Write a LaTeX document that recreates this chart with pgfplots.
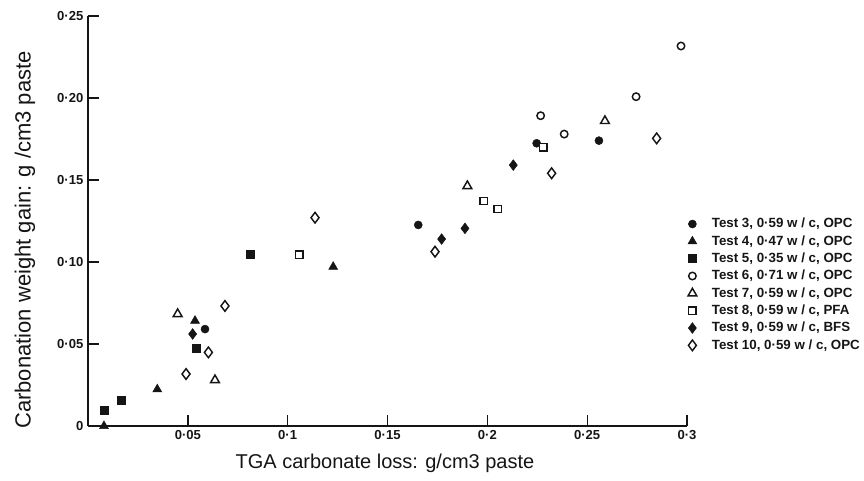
\documentclass[border=0pt]{standalone}
\usepackage{fontspec}
\setmainfont{Liberation Sans}
\usepackage{pgfplots}
\pgfplotsset{compat=1.18}
\definecolor{ink}{HTML}{151515}
\pgfplotsset{only mark legend/.style={legend image code/.code={\draw[##1] plot coordinates {(0pt,0pt)};}}}
\begin{document}
\begin{tikzpicture}
\path[use as bounding box] (0,0) rectangle (648pt,360pt);
\begin{axis}[
  at={(66pt,40.5pt)}, anchor=south west,
  scale only axis, width=449.25pt, height=307.5pt,
  xmin=0, xmax=0.3, ymin=0, ymax=0.25,
  axis x line=bottom, axis y line=left,
  axis line style={-, line width=1.1pt, ink},
  tick align=inside, major tick length=8pt,
  every tick/.style={line width=1pt, ink},
  xtick={0.05,0.1,0.15,0.2,0.25,0.3},
  xticklabels={0·05,0·1,0·15,0·2,0·25,0·3},
  ytick={0,0.05,0.1,0.15,0.2,0.25},
  yticklabels={0,0·05,0·10,0·15,0·20,0·25},
  ticklabel style={font=\bfseries\fontsize{9.8}{11}\selectfont, text=ink},
  every axis x label/.style={at={(axis description cs:0.4958,-0.0902)}, anchor=center},
  every axis y label/.style={at={(axis description cs:-0.1052,0.4537)}, anchor=center, rotate=90},
  xlabel style={font=\fontsize{15}{18}\selectfont, text=ink},
  ylabel style={font=\fontsize{16.5}{19}\selectfont, text=ink},
  xlabel={TGA carbonate loss: g/cm3 paste},
  ylabel={Carbonation weight gain: g /cm3 paste},
  legend image code/.code={\draw[#1] plot coordinates {(0pt,0pt)};},
  legend cell align=left,
  legend style={at={(axis description cs:1.0017,0.5138)}, anchor=north west,
    draw=none, fill=none, inner sep=0pt, outer sep=0pt,
    /tikz/row sep=0pt, /tikz/column sep=11.3pt,
    font=\bfseries\fontsize{10}{11}\selectfont, text=ink,
    nodes={inner sep=0pt, minimum height=13pt}},
  clip=false,
]
% Test 3
\addplot[only marks, mark=*, mark size=3pt, color=ink] coordinates {
 (0.0586,0.0591) (0.1654,0.1226) (0.2247,0.1724) (0.2559,0.1740)};
\addlegendentry{Test 3, 0·59 w / c, OPC}
% Test 4
\addplot[only marks, mark=triangle*, mark size=3.8pt, color=ink] coordinates {
 (0.0080,0.0000) (0.0347,0.0224) (0.0536,0.0642) (0.1228,0.0971)};
\addlegendentry{Test 4, 0·47 w / c, OPC}
% Test 5
\addplot[only marks, mark=square*, mark size=3pt, color=ink] coordinates {
 (0.0082,0.0098) (0.0169,0.0159) (0.0544,0.0477) (0.0811,0.1049)};
\addlegendentry{Test 5, 0·35 w / c, OPC}
% Test 6
\addplot[only marks, mark=*, mark size=2.8pt, color=ink, mark options={fill=white, line width=1.1pt}] coordinates {
 (0.2267,0.1892) (0.2385,0.1780) (0.2745,0.2008) (0.2970,0.2317)};
\addlegendentry{Test 6, 0·71 w / c, OPC}
% Test 7
\addplot[only marks, mark=triangle*, mark size=3.8pt, color=ink, mark options={fill=white, line width=1.1pt}] coordinates {
 (0.0449,0.0683) (0.0636,0.0280) (0.1900,0.1463) (0.2589,0.1860)};
\addlegendentry{Test 7, 0·59 w / c, OPC}
% Test 8
\addplot[only marks, mark=square*, mark size=2.8pt, color=ink, mark options={fill=white, line width=1.1pt}] coordinates {
 (0.1058,0.1043) (0.1983,0.1372) (0.2052,0.1323) (0.2280,0.1699)};
\addlegendentry{Test 8, 0·59 w / c, PFA}
% Test 9
\addplot[only marks, mark=diamond*, mark size=4pt, color=ink] coordinates {
 (0.0524,0.0561) (0.1771,0.1140) (0.1888,0.1205) (0.2130,0.1591)};
\addlegendentry{Test 9, 0·59 w / c, BFS}
% Test 10
\addplot[only marks, mark=diamond*, mark size=4pt, color=ink, mark options={fill=white, line width=1.1pt}] coordinates {
 (0.0491,0.0317) (0.0603,0.0449) (0.0686,0.0732) (0.1137,0.1270)
 (0.1738,0.1063) (0.2322,0.1541) (0.2848,0.1754)};
\addlegendentry{Test 10, 0·59 w / c, OPC}
\end{axis}
\end{tikzpicture}
\end{document}
